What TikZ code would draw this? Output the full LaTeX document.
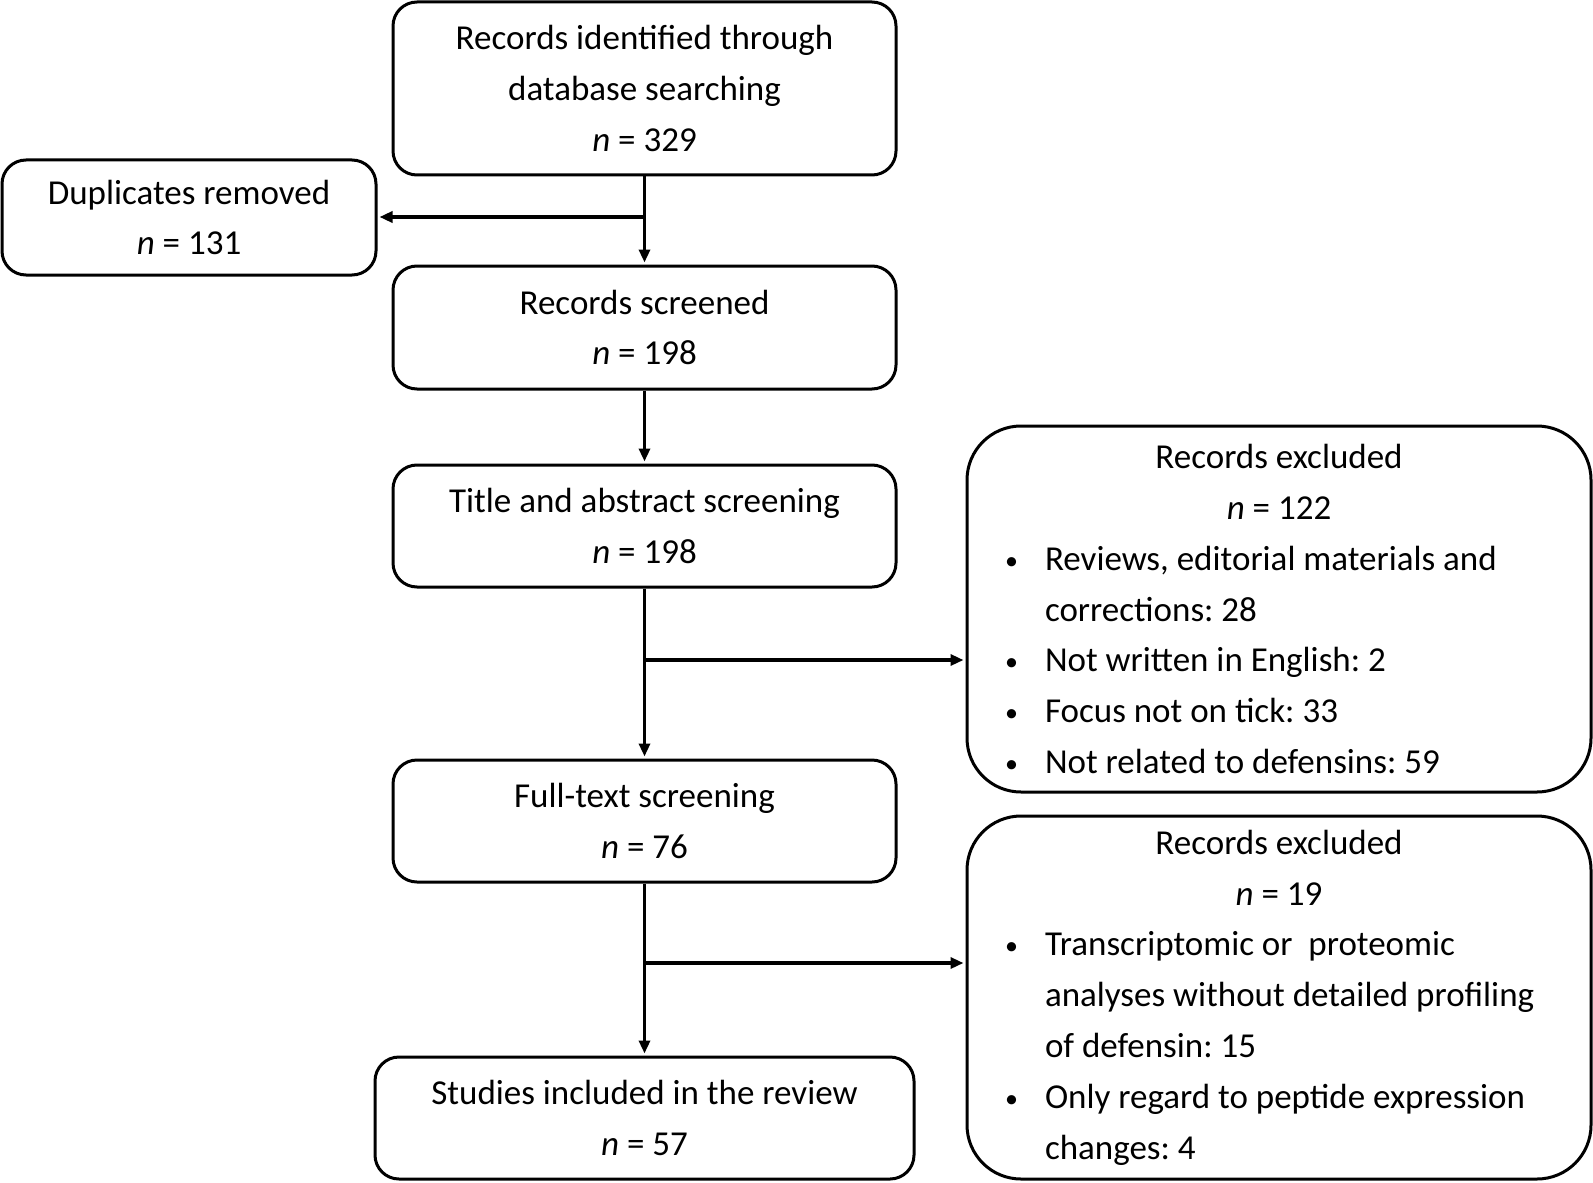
\documentclass[tikz,border=0pt]{standalone}
\usepackage{fontspec}
\setmainfont{Carlito}
\usetikzlibrary{arrows.meta}
\frenchspacing
\newcommand{\bitem}[1]{\par\hangindent=21pt\hangafter=1\noindent\makebox[21pt][l]{\hspace{1pt}\raisebox{0.5pt}{\fontsize{13}{13}\selectfont\textbullet}}#1}
\begin{document}
\begin{tikzpicture}[x=0.5pt,y=-0.5pt,
  box/.style={draw=black,line width=1.5pt,rounded corners=12pt,inner sep=0pt,align=center,
    font=\fontsize{17.5}{25.4}\selectfont},
  exbox/.style={draw=black,line width=1.5pt,rounded corners=27pt,inner sep=0pt,
    minimum width=312pt,font=\fontsize{17.5}{25.4}\selectfont},
  arr/.style={line width=1.6pt,-{Triangle[length=6.5pt,width=5.5pt]},shorten >=1pt}]
\useasboundingbox (0,0) rectangle (1593,1182);
\node[box,minimum width=251.5pt,minimum height=86.5pt] (id) at (644.5,88.5)
  {Records identified through\\database searching\\\textit{n} = 329};
\node[box,minimum width=187pt,minimum height=57.5pt] (dup) at (189,217.5)
  {Duplicates removed\\\textit{n} = 131};
\node[box,minimum width=251.5pt,minimum height=61.5pt] (scr) at (644.5,327.5)
  {Records screened\\\textit{n} = 198};
\node[box,minimum width=251.5pt,minimum height=61pt] (tas) at (644.5,526)
  {Title and abstract screening\\\textit{n} = 198};
\node[box,minimum width=251.5pt,minimum height=61pt] (fts) at (644.5,821)
  {Full-text screening\\\textit{n} = 76};
\node[box,minimum width=269.5pt,minimum height=61pt] (inc) at (644.5,1118)
  {Studies included in the review\\\textit{n} = 57};
\node[exbox,minimum height=183pt] (ex1) at (1279,609)
  {\parbox{276pt}{\fontsize{17.5}{25.4}\selectfont\centering Records excluded\\\textit{n} = 122\par
   \raggedright
   \bitem{Reviews, editorial materials and\newline corrections: 28}
   \bitem{Not written in English: 2}
   \bitem{Focus not on tick: 33}
   \bitem{Not related to defensins: 59}\par}};
\node[exbox,minimum height=181.5pt] (ex2) at (1279,997.5)
  {\parbox{276pt}{\fontsize{17.5}{25.4}\selectfont\centering Records excluded\\\textit{n} = 19\par
   \raggedright
   \bitem{Transcriptomic or\ \ proteomic\newline analyses without detailed profiling\newline of defensin: 15}
   \bitem{Only regard to peptide expression\newline changes: 4}\par}};
\coordinate (b1) at (644.5,217);
\coordinate (b2) at (644.5,660);
\coordinate (b3) at (644.5,963);
\draw[arr] (id.south) -- (scr.north);
\draw[arr] (b1) -- (b1 -| dup.east);
\draw[arr] (scr.south) -- (tas.north);
\draw[arr] (tas.south) -- (fts.north);
\draw[arr] (b2) -- (b2 -| ex1.west);
\draw[arr] (fts.south) -- (inc.north);
\draw[arr] (b3) -- (b3 -| ex2.west);
\end{tikzpicture}
\end{document}
